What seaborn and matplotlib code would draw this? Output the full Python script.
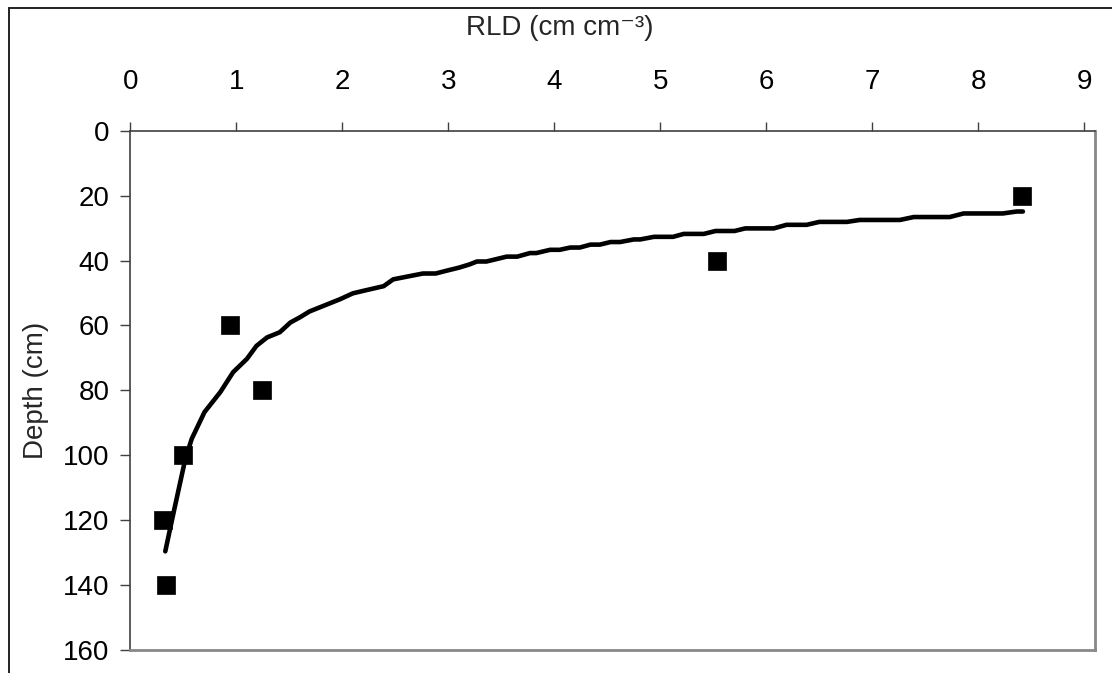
import matplotlib
matplotlib.use("Agg")
import matplotlib.pyplot as plt
from matplotlib.lines import Line2D
import seaborn as sns
import pandas as pd

# Observed data (markers)
obs_rld = [8.41, 5.53, 0.94, 1.24, 0.50, 0.31, 0.34]
obs_depth = [20, 40, 60, 80, 100, 120, 140]

# Fitted curve
fit_rld = [0.33, 0.41, 0.52, 0.58, 0.70, 0.85, 0.97, 1.10, 1.19, 1.29, 1.41,
           1.51, 1.60, 1.69, 1.82, 1.98, 2.10, 2.23, 2.39, 2.48, 2.62, 2.76,
           2.88, 3.00, 3.10, 3.20, 3.27, 3.36, 3.55, 3.65, 3.77, 3.83, 3.96,
           4.05, 4.15, 4.24, 4.34, 4.43, 4.53, 4.62, 4.75, 4.81, 4.94, 5.12,
           5.22, 5.41, 5.52, 5.70, 5.80, 6.07, 6.19, 6.38, 6.50, 6.76, 6.88,
           7.26, 7.39, 7.73, 7.86, 8.23, 8.36, 8.42]
fit_depth = [129.6, 117.4, 101.0, 94.9, 86.7, 80.5, 74.4, 70.3, 66.3, 63.7, 62.1,
             59.1, 57.5, 55.7, 54.0, 51.9, 50.1, 49.1, 47.9, 45.8, 44.9, 44.0,
             44.0, 43.0, 42.2, 41.2, 40.3, 40.3, 38.8, 38.8, 37.7, 37.7, 36.7,
             36.7, 36.0, 36.0, 35.1, 35.1, 34.3, 34.3, 33.5, 33.5, 32.7, 32.7,
             31.8, 31.8, 30.9, 30.9, 30.1, 30.1, 29.0, 29.0, 28.1, 28.1, 27.5,
             27.5, 26.6, 26.6, 25.5, 25.5, 24.9, 24.9]

x_ticks = [0, 1, 2, 3, 4, 5, 6, 7, 8, 9]
y_ticks = [0, 20, 40, 60, 80, 100, 120, 140, 160]
x_title = "RLD (cm cm\u207b\u00b3)"
y_title = "Depth (cm)"

sns.set_style("white")
plt.rcParams["font.family"] = ["Liberation Sans", "DejaVu Sans"]

W, H = 1112, 673
fig = plt.figure(figsize=(W / 100, H / 100), dpi=100)
left, right, top, bottom = 130.3, 1095, 130.7, 650
ax = fig.add_axes([left / W, 1 - bottom / H, (right - left) / W, (bottom - top) / H])

df_fit = pd.DataFrame({"rld": fit_rld, "depth": fit_depth})
df_obs = pd.DataFrame({"rld": obs_rld, "depth": obs_depth})

sns.lineplot(data=df_fit, x="rld", y="depth", sort=False, estimator=None,
             color="black", lw=3.3, ax=ax, solid_joinstyle="round",
             solid_capstyle="round", zorder=2)
sns.scatterplot(data=df_obs, x="rld", y="depth", marker="s", s=150,
                color="black", edgecolor="black", linewidth=0.5, ax=ax, zorder=3)

ax.set_xlim(0, 9.1)
ax.set_ylim(160, 0)
ax.set_xticks(x_ticks)
ax.set_yticks(y_ticks)
ax.set_xticklabels([str(v) for v in x_ticks])
ax.set_yticklabels([str(v) for v in y_ticks])

ax.xaxis.tick_top()
ax.xaxis.set_label_position("top")
fs = 20
ax.tick_params(axis="x", top=True, bottom=False, direction="out", length=6.5,
               width=1, color="#404040", labelsize=fs, pad=19, labelcolor="black")
ax.tick_params(axis="y", left=True, right=False, direction="out", length=7,
               width=1, color="#404040", labelsize=fs, pad=8, labelcolor="black")

ax.set_xlabel(x_title, fontsize=fs)
ax.set_ylabel(y_title, fontsize=fs)
ax.xaxis.set_label_coords(0.445, 1.185)
ax.yaxis.set_label_coords(-0.084, 0.5)

for s in ["top", "left"]:
    ax.spines[s].set_visible(True)
    ax.spines[s].set_color("#404040")
    ax.spines[s].set_linewidth(1.2)
for s in ["right", "bottom"]:
    ax.spines[s].set_visible(True)
    ax.spines[s].set_color("#888888")
    ax.spines[s].set_linewidth(2.0)
ax.grid(False)

# outer chart-area frame (clipped by image on right and bottom)
fx = 9 / W
fy = 1 - 8 / H
fig.add_artist(Line2D([fx, fx], [0, fy], transform=fig.transFigure, color="#222222", lw=1.4))
fig.add_artist(Line2D([fx, 1], [fy, fy], transform=fig.transFigure, color="#222222", lw=1.4))

fig.savefig("out.png", dpi=100, facecolor="white")
